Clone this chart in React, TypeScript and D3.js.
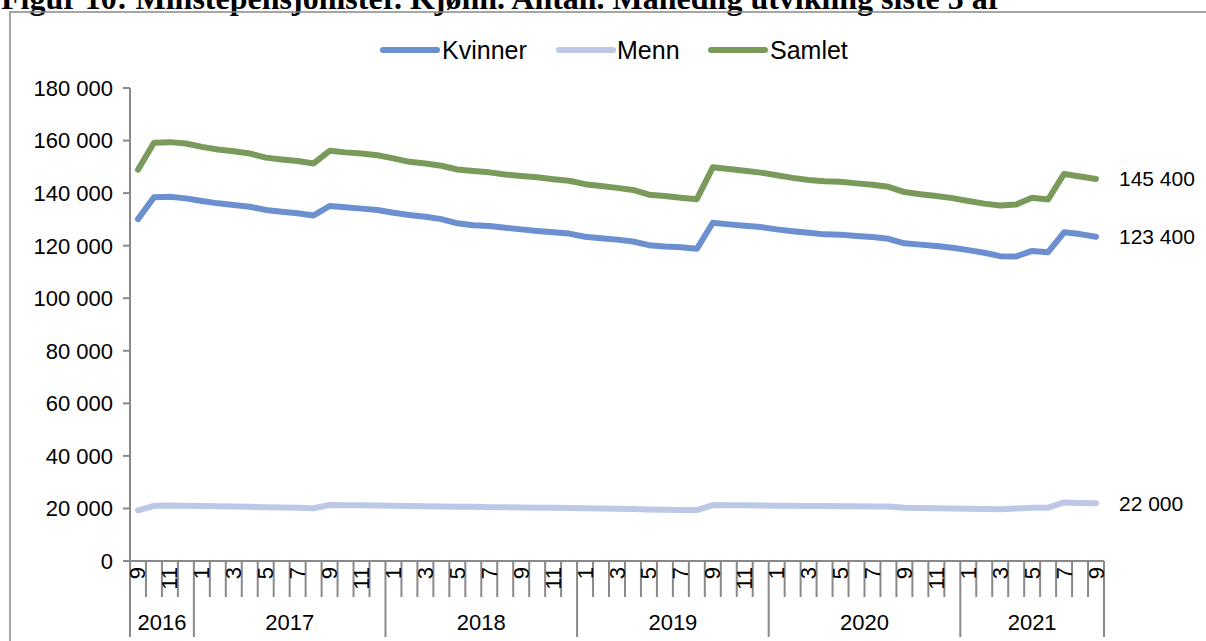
import React from "react";
import * as d3 from "d3";

const startYear = 2016;
const startMonth = 9;
const nPoints = 61;

const kvinner = [
  130100, 138400, 138600, 138000, 137000, 136100, 135500, 134800, 133600, 132900, 132300, 131500,
  135100, 134600, 134100, 133600, 132500, 131700, 131000, 130100, 128500, 127800, 127500, 126800,
  126200, 125600, 125100, 124600, 123400, 122800, 122300, 121600, 120200, 119700, 119400, 118800,
  128700, 128100, 127600, 127100, 126200, 125500, 124900, 124300, 124200, 123700, 123300, 122600,
  120900, 120400, 119900, 119200, 118300, 117300, 116000, 115900, 118000, 117500, 125100, 124400, 123400,
];

const menn = [
  19300, 21000, 21100, 21000, 20900, 20800, 20700, 20600, 20500, 20400, 20300, 20100,
  21300, 21200, 21200, 21100, 21000, 20900, 20800, 20700, 20600, 20600, 20500, 20500,
  20400, 20300, 20300, 20200, 20100, 20000, 19900, 19800, 19600, 19500, 19400, 19400,
  21300, 21200, 21200, 21100, 21000, 21000, 20900, 20900, 20800, 20800, 20700, 20700,
  20300, 20200, 20100, 20000, 19900, 19800, 19700, 20000, 20300, 20300, 22300, 22100, 22000,
];

const samlet = [
  148900, 159200, 159400, 158900, 157600, 156600, 155900, 155100, 153500, 152800, 152200, 151300,
  156100, 155500, 155100, 154400, 153200, 151900, 151300, 150400, 149000, 148400, 147900, 147100,
  146500, 146000, 145300, 144700, 143400, 142700, 142000, 141200, 139400, 138900, 138200, 137700,
  149800, 149200, 148500, 147800, 146800, 145800, 145000, 144500, 144300, 143700, 143200, 142400,
  140400, 139600, 138900, 138100, 137000, 136000, 135300, 135700, 138200, 137600, 147300, 146300, 145400,
];

const yTicks = [0, 20000, 40000, 60000, 80000, 100000, 120000, 140000, 160000, 180000];
const endLabels = ["123 400", "22 000", "145 400"];
const seriesNames = ["Kvinner", "Menn", "Samlet"];
const seriesColors = ["#6b8fcf", "#bdc7e6", "#7a9a5b"];
const title = "Figur 10: Minstepensjonister. Kjønn. Antall. Månedlig utvikling siste 5 år";

const fmt = (v: number) => {
  const s = String(v);
  if (v < 1000) return s;
  return s.slice(0, s.length - 3) + " " + s.slice(s.length - 3);
};

export default function App() {
  const W = 1206;
  const H = 641;
  const left = 130;
  const right = 1104;
  const top = 88;
  const bottom = 561;
  const font = "Arial, 'Liberation Sans', sans-serif";
  const axisColor = "#898989";

  const idx = d3.range(nPoints);
  const months = idx.map((i) => ((startMonth - 1 + i) % 12) + 1);
  const years = idx.map((i) => startYear + Math.floor((startMonth - 1 + i) / 12));

  const x = d3.scaleBand<number>().domain(idx).range([left, right]).padding(0);
  const bw = x.bandwidth();
  const cx = (i: number) => (x(i) as number) + bw / 2;
  const y = d3.scaleLinear().domain([0, 180000]).range([bottom, top]);

  const line = d3
    .line<number>()
    .x((_, i) => cx(i))
    .y((d) => y(d));

  const series = [kvinner, menn, samlet];

  const yearGroups: { year: number; start: number; end: number }[] = [];
  idx.forEach((i) => {
    const yr = years[i];
    const g = yearGroups[yearGroups.length - 1];
    if (!g || g.year !== yr) yearGroups.push({ year: yr, start: i, end: i });
    else g.end = i;
  });

  const legendItems = [
    { lx: 383, tx: 442 },
    { lx: 559, tx: 617 },
    { lx: 711, tx: 770 },
  ];

  return (
    <svg
      width={W}
      height={H}
      style={{ position: "absolute", left: 0, top: 0, background: "#fff" }}
    >
      <rect x={0} y={0} width={W} height={H} fill="#fff" />
      <text
        x={1}
        y={9}
        fontFamily="'Liberation Serif', 'Times New Roman', serif"
        fontWeight="bold"
        fontSize={32}
        fill="#000"
      >
        {title}
      </text>
      <rect x={10} y={12} width={1220} height={700} fill="none" stroke={axisColor} strokeWidth={1.5} />

      {seriesNames.map((n, k) => (
        <g key={n}>
          <line
            x1={legendItems[k].lx}
            x2={legendItems[k].lx + 54}
            y1={50}
            y2={50}
            stroke={seriesColors[k]}
            strokeWidth={6}
            strokeLinecap="round"
          />
          <text x={legendItems[k].tx} y={50} dy="0.36em" fontFamily={font} fontSize={25} fill="#000">
            {n}
          </text>
        </g>
      ))}

      <line x1={left} x2={left} y1={top} y2={bottom} stroke={axisColor} strokeWidth={2} />
      {yTicks.map((t) => (
        <g key={t}>
          <line x1={left - 7} x2={left} y1={y(t)} y2={y(t)} stroke={axisColor} strokeWidth={2} />
          <text
            x={113}
            y={y(t)}
            dy="0.36em"
            textAnchor="end"
            fontFamily={font}
            fontSize={22}
            fill="#000"
          >
            {fmt(t)}
          </text>
        </g>
      ))}

      <line x1={left - 7} x2={right} y1={bottom} y2={bottom} stroke={axisColor} strokeWidth={2} />
      {d3.range(nPoints + 1).map((k) => {
        const xx = k < nPoints ? (x(k) as number) : right;
        const isYear = k === nPoints || k === 0 || years[k] !== years[k - 1];
        return (
          <line
            key={"t" + k}
            x1={xx}
            x2={xx}
            y1={bottom}
            y2={isYear ? 637 : 597}
            stroke={axisColor}
            strokeWidth={2}
          />
        );
      })}
      {idx
        .filter((i) => i % 2 === 0)
        .map((i) => (
          <text
            key={"m" + i}
            transform={`translate(${cx(i) + 7.5},567) rotate(-90)`}
            textAnchor="end"
            fontFamily={font}
            fontSize={22}
            fill="#000"
          >
            {months[i]}
          </text>
        ))}
      {yearGroups.map((g) => (
        <text
          key={"y" + g.year}
          x={((x(g.start) as number) + (x(g.end) as number) + bw) / 2}
          y={630}
          textAnchor="middle"
          fontFamily={font}
          fontSize={22}
          fill="#000"
        >
          {g.year}
        </text>
      ))}

      {series.map((s, k) => (
        <path
          key={"s" + k}
          d={line(s) || ""}
          fill="none"
          stroke={seriesColors[k]}
          strokeWidth={6}
          strokeLinejoin="round"
          strokeLinecap="round"
        />
      ))}

      {series.map((s, k) => (
        <text
          key={"e" + k}
          x={1119}
          y={y(s[s.length - 1])}
          dy="0.36em"
          fontFamily={font}
          fontSize={21}
          fill="#000"
        >
          {endLabels[k]}
        </text>
      ))}
    </svg>
  );
}
